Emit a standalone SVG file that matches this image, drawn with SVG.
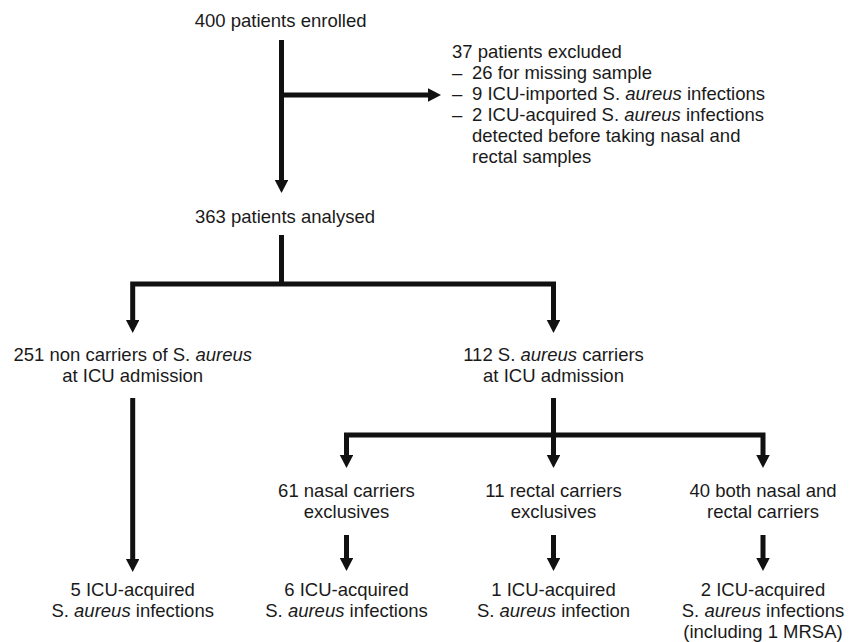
<svg xmlns="http://www.w3.org/2000/svg" width="857" height="642" viewBox="0 0 857 642">
<style>
text{font-family:"Liberation Sans",Arial,sans-serif;font-size:18.5px;fill:#1a1a1a}
.c{text-anchor:middle}
.i{font-style:italic}
.ln{fill:none;stroke:#111;stroke-width:5;stroke-linejoin:miter}
.ar{marker-end:url(#ah)}
</style>
<defs>
<marker id="ah" markerUnits="userSpaceOnUse" markerWidth="14" markerHeight="14" refX="0" refY="6.75" orient="auto" viewBox="0 0 14 14">
<path d="M0,0 L13,6.75 L0,13.5 z" fill="#111"/>
</marker>
</defs>
<g id="connectors">
<path class="ln ar" d="M281.5,40 V180"/>
<path class="ln ar" d="M281.5,95 H428"/>
<path class="ln" d="M281.5,235 V286"/>
<path class="ln ar" d="M281.5,284 H132.7 V320"/>
<path class="ln ar" d="M281.5,284 H553.5 V320"/>
<path class="ln ar" d="M132.7,398 V559"/>
<path class="ln ar" d="M553.5,398 V455"/>
<path class="ln ar" d="M553.5,435 H346.5 V455"/>
<path class="ln ar" d="M553.5,435 H763 V455"/>
<path class="ln ar" d="M346.5,535 V558"/>
<path class="ln ar" d="M553.5,535 V558"/>
<path class="ln ar" d="M763,535 V558"/>
</g>
<g id="enrolled"><text class="c" x="280.6" y="27">400 patients enrolled</text></g>
<g id="excluded">
<text x="452" y="58">37 patients excluded</text>
<text x="452" y="79">–</text><text x="472" y="79">26 for missing sample</text>
<text x="452" y="100">–</text><text x="472" y="100">9 ICU-imported S. <tspan class="i">aureus</tspan> infections</text>
<text x="452" y="121">–</text><text x="472" y="121">2 ICU-acquired S. <tspan class="i">aureus</tspan> infections</text>
<text x="472" y="142">detected before taking nasal and</text>
<text x="472" y="163">rectal samples</text>
</g>
<g id="analysed"><text class="c" x="285" y="223">363 patients analysed</text></g>
<g id="noncarriers">
<text class="c" x="132.7" y="361">251 non carriers of S. <tspan class="i">aureus</tspan></text>
<text class="c" x="132.7" y="382">at ICU admission</text>
</g>
<g id="carriers">
<text class="c" x="553.5" y="361">112 S. <tspan class="i">aureus</tspan> carriers</text>
<text class="c" x="553.5" y="382">at ICU admission</text>
</g>
<g id="nasal">
<text class="c" x="346.5" y="497">61 nasal carriers</text>
<text class="c" x="346.5" y="518">exclusives</text>
</g>
<g id="rectal">
<text class="c" x="553.5" y="497">11 rectal carriers</text>
<text class="c" x="553.5" y="518">exclusives</text>
</g>
<g id="both">
<text class="c" x="763" y="497">40 both nasal and</text>
<text class="c" x="763" y="518">rectal carriers</text>
</g>
<g id="inf-non">
<text class="c" x="132.7" y="596">5 ICU-acquired</text>
<text class="c" x="132.7" y="617">S. <tspan class="i">aureus</tspan> infections</text>
</g>
<g id="inf-nasal">
<text class="c" x="346.5" y="596">6 ICU-acquired</text>
<text class="c" x="346.5" y="617">S. <tspan class="i">aureus</tspan> infections</text>
</g>
<g id="inf-rectal">
<text class="c" x="553.5" y="596">1 ICU-acquired</text>
<text class="c" x="553.5" y="617">S. <tspan class="i">aureus</tspan> infection</text>
</g>
<g id="inf-both">
<text class="c" x="763" y="596">2 ICU-acquired</text>
<text class="c" x="763" y="617">S. <tspan class="i">aureus</tspan> infections</text>
<text class="c" x="763" y="638">(including 1 MRSA)</text>
</g>
</svg>
